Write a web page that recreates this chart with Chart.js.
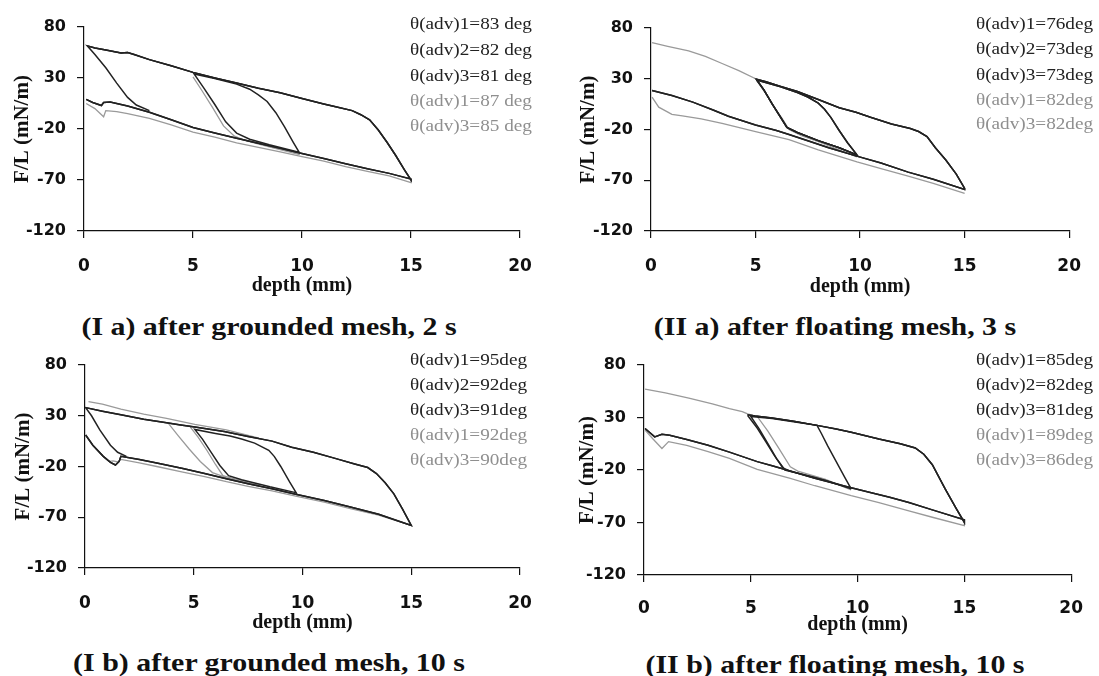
<!DOCTYPE html>
<html><head><meta charset="utf-8">
<script src="https://cdn.jsdelivr.net/npm/chart.js@4/dist/chart.umd.min.js"></script>
<style>
html,body{margin:0;padding:0;background:#fff;}
#page{position:relative;width:1099px;height:676px;overflow:hidden;background:#fff;}
#page canvas{position:absolute;}
.title{position:absolute;font-family:'Liberation Serif','Times New Roman',serif;font-weight:bold;font-size:26px;color:#111;white-space:nowrap;line-height:1;transform:translate(-50%,-50%) scaleX(1.15);}
.leg{position:absolute;font-family:'Liberation Serif','Times New Roman',serif;font-size:16px;white-space:nowrap;line-height:1;transform-origin:0 50%;transform:translateY(-50%) scaleX(1.2);}
</style></head><body><div id="page"></div>
<script>
// ---------- shared axis ticks ----------
const xTicks = [0, 5, 10, 15, 20];
const yTicks = [80, 30, -20, -70, -120];

// ---------- Panel I a (after grounded mesh, 2 s) ----------
const Ia_upper = [[15,-70],[14.7,-60],[14.3,-46],[13.9,-33],[13.5,-21],[13.1,-11],[12.7,-6],[12.3,-2],[11.5,2],[11,4.5],[10,10],[9,15.5],[8,20],[7,25],[6,30],[5,35.5],[4,42],[3,48],[2.3,53],[2,55],[1.7,54.5],[1,57.5],[0.5,59.5],[0.15,61.5]];
const Ia_steepL = [[0.15,61.5],[0.5,53],[1,40],[1.5,25],[2,11],[2.4,3.5],[3,-2]];
const Ia_lowerB = [[0.1,9],[0.4,6],[0.8,3],[0.9,6],[1.2,6.5],[2,2.5],[3,-3.5],[4,-11],[5,-18.5],[6,-24],[7,-29],[8,-34],[9,-39],[10,-44],[11,-49],[12,-54],[13,-59],[14,-63.5],[15,-69]];
const Ia_lowerG = [[0.1,5],[0.5,0],[0.9,-8],[1.0,-2],[1.5,-3],[2,-5],[3,-9.5],[4,-16],[5,-23],[6,-28],[7,-33.5],[8,-38],[9,-42.5],[10,-47],[11,-51.5],[12,-57],[13,-61.5],[14,-66],[15,-72.5]];
const Ia_steep10 = [[9.9,-44],[9.6,-33],[9.2,-18],[8.8,-4],[8.4,7],[8,13.5],[7.6,19],[7,24],[6,29.5],[5.05,34]];
const Ia_steep5B = [[5.05,34],[5.5,20],[6,4],[6.5,-13],[7,-24],[7.6,-30],[8.5,-35.5],[9.9,-43]];
const Ia_steep5G = [[5.0,31],[5.4,18],[5.9,1],[6.4,-17],[6.9,-27],[7.5,-32],[8.5,-37.5],[9.9,-45]];
const Ia_labels = ['θ(adv)1=83 deg','θ(adv)2=82 deg','θ(adv)3=81 deg','θ(adv)1=87 deg','θ(adv)3=85 deg'];

// ---------- Panel II a (after floating mesh, 3 s) ----------
const IIa_top = [[0.05,65.5],[0.8,62],[1.8,57.5],[2.6,52],[3.4,45],[4.2,38],[5,30]];
const IIa_upper = [[15,-78],[14.6,-64],[14.1,-50],[13.6,-38],[13.2,-27],[12.8,-22],[12.4,-19],[11.5,-14.5],[10.5,-8],[9.8,-3],[9,1.5],[8,9.5],[7,17.5],[6.2,22.5],[5.5,27],[5.05,29.5]];
const IIa_lowerB = [[0.05,18.5],[1,13.5],[2,7],[3,-1],[3.7,-7],[5,-15.5],[6,-21],[6.6,-25],[7.5,-31],[8.5,-38],[9.8,-46],[11,-53],[12.3,-62],[13.5,-69],[15,-79]];
const IIa_lowerG = [[0.05,12],[0.37,2],[1,-5],[1.5,-6.5],[2.4,-9.5],[3.4,-14],[5,-22],[6.6,-30],[8,-40],[9.85,-52],[11,-58.5],[12.3,-66],[13.5,-73],[15,-83]];
const IIa_steep5B = [[5.05,29],[5.4,19],[5.8,5],[6.2,-8],[6.5,-18],[7,-23],[8,-31],[9,-38],[9.85,-45]];
const IIa_steep10 = [[9.85,-45],[9.4,-33],[9,-21],[8.6,-8],[8.3,0],[8,6],[7.5,12],[7,16.5],[6.2,22],[5.1,28.5]];
const IIa_steep5G = [[5.1,27],[5.5,15],[5.9,2],[6.3,-10],[6.6,-20],[7.2,-26],[8,-32],[9.85,-47]];
const IIa_labels = ['θ(adv)1=76deg','θ(adv)2=73deg','θ(adv)3=73deg','θ(adv)1=82deg','θ(adv)3=82deg'];

// ---------- Panel I b (after grounded mesh, 10 s) ----------
const Ib_upper = [[15,-78],[14.6,-62],[14.2,-47],[13.8,-36],[13.4,-27],[13.0,-21],[12.4,-17.5],[11.5,-12],[10.5,-6],[9.5,-1],[8.6,5],[7.5,9.5],[6.4,14.5],[5.05,19],[4.4,21],[3.75,23],[2.7,26.5],[1.65,31],[0.8,34.5],[0.03,38]];
const Ib_top = [[0.16,44],[0.8,41.5],[1.65,36.5],[2.7,31.5],[3.75,27.5],[5.05,21.5],[6.5,16],[8,8]];
const Ib_steepL = [[0.03,38],[0.3,30],[0.68,16],[1.17,1],[1.5,-6],[1.9,-10]];
const Ib_lowerB = [[0.03,11],[0.36,1],[0.84,-10],[1.17,-16],[1.4,-18.5],[1.57,-15],[1.65,-10],[2.5,-13],[3.3,-16.5],[4.5,-22],[5.5,-27],[6.5,-32],[7.5,-37],[8.6,-42],[9.74,-47.5],[11,-53.5],[12.2,-60],[13.5,-67],[15,-78]];
const Ib_lowerG = [[1.1,-15],[1.3,-14.5],[1.5,-15.5],[1.65,-13],[2.5,-16.5],[3.3,-20],[4.5,-25.5],[5.5,-30],[6.5,-35],[7.5,-39.5],[8.6,-44],[9.74,-49.5],[11,-55],[12.2,-61.5],[13.5,-68],[15,-78]];
const Ib_steep10 = [[9.74,-47],[9.4,-35],[9.0,-20],[8.7,-10],[8.45,-4],[7.8,3],[7.2,7],[6.67,10],[6,12.5],[5.05,16.5]];
const Ib_steep5B = [[5.05,16.5],[5.4,7],[5.8,-6],[6.2,-19],[6.6,-29],[7.2,-33],[8.5,-40],[9.74,-46]];
const Ib_steepGA = [[3.85,22],[4.3,10],[4.8,-3],[5.3,-15],[5.86,-26],[6.5,-31],[7.5,-36]];
const Ib_steepGB = [[4.8,20],[5.2,9],[5.6,-4],[6.0,-18],[6.34,-29],[7,-33],[8,-38]];
const Ib_labels = ['θ(adv)1=95deg','θ(adv)2=92deg','θ(adv)3=91deg','θ(adv)1=92deg','θ(adv)3=90deg'];

// ---------- Panel II b (after floating mesh, 10 s) ----------
const IIb_top = [[0.05,57],[1,53.5],[2.1,48.5],[3.2,43],[4,38.5],[4.6,35.5],[4.85,33.5]];
const IIb_upper = [[15,-70],[14.6,-56],[14.1,-38],[13.5,-15],[13.1,-5],[12.7,1],[12,5],[11,9.5],[9.7,16],[9,19],[8.1,22.5],[7,26.5],[6,29.5],[5.2,31.5],[4.87,32.5]];
const IIb_lowerB = [[0.05,19.5],[0.5,11.5],[0.84,14],[1.2,13],[2,9],[3,3.5],[4,-3],[5.3,-12],[6,-16],[6.85,-21],[8,-28],[9.7,-37],[10.5,-41],[11.5,-46],[12.4,-51],[13.5,-58],[15,-67.5]];
const IIb_lowerG = [[0.05,18],[0.4,10],[0.84,0.5],[1.15,7],[2,3.5],[3,-2.5],[4,-9],[5.3,-19.5],[6.85,-28],[8,-35],[9.7,-44.5],[11,-51],[12.4,-59],[13.5,-65],[15,-73]];
const IIb_steep5B = [[4.87,31.5],[5.3,20],[5.7,7],[6.1,-6],[6.5,-18],[6.9,-21.5],[8,-27],[9.7,-37]];
const IIb_steep10 = [[9.7,-38],[9.4,-27],[9.0,-12],[8.6,3],[8.3,15],[8.1,22.5],[7,26],[6,29],[5.0,31]];
const IIb_steep5B2 = [[5.0,31],[5.4,19],[5.8,5],[6.2,-9],[6.6,-20],[7.2,-23],[8.5,-30],[9.7,-38]];
const IIb_steep5G = [[5.3,31],[5.8,17],[6.3,1],[6.85,-17],[7.2,-21],[8.5,-29],[9.7,-39]];
const IIb_labels = ['θ(adv)1=85deg','θ(adv)2=82deg','θ(adv)3=81deg','θ(adv)1=89deg','θ(adv)3=86deg'];

// ---------- series: each run is a chain of traced segments ----------
const Ia_series = [[Ia_lowerB, Ia_upper, Ia_steepL],[Ia_steep10, Ia_steep5B],[Ia_lowerB, Ia_upper],[Ia_lowerG, Ia_upper],[Ia_steep5G]];
const IIa_series = [[IIa_lowerB, IIa_upper, IIa_steep5B, IIa_steep10],[IIa_lowerB, IIa_upper, IIa_steep5B],[IIa_steep10, IIa_steep5B],[IIa_top, IIa_steep5G],[IIa_lowerG, IIa_upper]];
const Ib_series = [[Ib_lowerB, Ib_upper, Ib_steepL],[Ib_steep10, Ib_steep5B],[Ib_lowerB, Ib_upper],[Ib_top, Ib_steepGA],[Ib_lowerG, Ib_steepGB]];
const IIb_series = [[IIb_lowerB, IIb_upper, IIb_steep5B],[IIb_steep10, IIb_steep5B2],[IIb_lowerB, IIb_upper],[IIb_top, IIb_steep5G],[IIb_lowerG, IIb_upper]];

const BLACK = '#222222', GRAY = '#9a9a9a';

// layout (page px): canvas box, plot area, legend, title, axis-title offsets
const panels = [
  {series: Ia_series, labels: Ia_labels, cv:[0,0,550,300], area:[84,27,520,231], legX:410, legY:[24,50,76,101,126], title:'(I a) after grounded mesh, 2 s', tX:269, tY:327, yT:23, xT:286, xPad:18},
  {series: IIa_series, labels: IIa_labels, cv:[550,0,549,300], area:[651,28,1087,231], legX:976, legY:[24,49,75,100,124], title:'(II a) after floating mesh, 3 s', tX:835, tY:327, yT:589, xT:287, xPad:18},
  {series: Ib_series, labels: Ib_labels, cv:[0,330,550,310], area:[85,365,520,568], legX:410, legY:[360,385,410,435,460], title:'(I b) after grounded mesh, 10 s', tX:269, tY:663, yT:24, xT:623, xPad:18},
  {series: IIb_series, labels: IIb_labels, cv:[550,330,549,310], area:[644,365,1087,575], legX:976, legY:[360,385,410,435,460], title:'(II b) after floating mesh, 10 s', tX:835, tY:665, yT:588, xT:625, xPad:16}
];

function chain(segs){
  const out = [];
  segs.forEach(seg => {
    if (out.length) {
      const last = out[out.length-1], f = seg[0];
      if (Math.abs(last.x - f[0]) > 1 || Math.abs(last.y - f[1]) > 4) out.push({x: NaN, y: NaN});
    }
    seg.forEach(p => out.push({x: p[0], y: p[1]}));
  });
  return out;
}

const page = document.getElementById('page');
panels.forEach(p => {
  const [cl, ct, cw, ch] = p.cv;
  const [al, at, ar, ab] = p.area;
  const cv = document.createElement('canvas');
  cv.width = cw; cv.height = ch;
  cv.style.left = cl + 'px'; cv.style.top = ct + 'px';
  cv.style.width = cw + 'px'; cv.style.height = ch + 'px';
  page.appendChild(cv);

  const yW = al - cl, xH = ct + ch - ab;
  const yTitleSize = 21, xTitleSize = 20;
  new Chart(cv, {
    type: 'scatter',
    data: {datasets: p.series.map((s, i) => ({
      label: p.labels[i], data: chain(s), showLine: true, spanGaps: false,
      borderColor: i < 3 ? BLACK : GRAY, backgroundColor: i < 3 ? BLACK : GRAY,
      borderWidth: i < 3 ? 1.5 : 1.3, pointRadius: 0, pointHoverRadius: 0, tension: 0, fill: false
    }))},
    options: {
      responsive: false, animation: false, events: [],
      layout: {padding: {left: 0, top: at - ct, right: cl + cw - ar, bottom: 0}},
      plugins: {legend: {display: false}, tooltip: {enabled: false}},
      scales: {
        x: {
          type: 'linear', min: 0, max: 20,
          afterBuildTicks: s => { s.ticks = xTicks.map(v => ({value: v})); },
          afterFit: s => { s.height = xH; },
          grid: {drawOnChartArea: false, drawTicks: true, tickLength: 7, color: '#111', lineWidth: 1.2},
          border: {display: true, color: '#111', width: 1.2},
          ticks: {font: {family: 'DejaVu Sans', weight: 'bold', size: 17}, color: '#111', padding: p.xPad, maxRotation: 0, autoSkip: false},
          title: {display: true, text: 'depth (mm)', color: '#111',
                  font: {family: 'Liberation Serif', weight: 'bold', size: xTitleSize},
                  padding: {top: 0, bottom: (ct + ch) - p.xT - xTitleSize * 0.6}}
        },
        y: {
          type: 'linear', min: -120, max: 80,
          afterBuildTicks: s => { s.ticks = yTicks.map(v => ({value: v})); },
          afterFit: s => { s.width = yW; },
          grid: {drawOnChartArea: false, drawTicks: true, tickLength: 7, color: '#111', lineWidth: 1.2},
          border: {display: true, color: '#111', width: 1.2},
          ticks: {font: {family: 'DejaVu Sans', weight: 'bold', size: 16}, color: '#111', padding: 11, autoSkip: false},
          title: {display: true, text: 'F/L (mN/m)', color: '#111',
                  font: {family: 'Liberation Serif', weight: 'bold', size: yTitleSize},
                  padding: {top: (p.yT - cl) - yTitleSize * 0.6, bottom: 0}}
        }
      }
    }
  });

  p.labels.forEach((t, i) => {
    const d = document.createElement('div');
    d.className = 'leg';
    d.textContent = t;
    d.style.left = p.legX + 'px';
    d.style.top = p.legY[i] + 'px';
    d.style.color = i < 3 ? '#222' : '#8f8f8f';
    page.appendChild(d);
  });

  const tt = document.createElement('div');
  tt.className = 'title';
  tt.textContent = p.title;
  tt.style.left = p.tX + 'px';
  tt.style.top = p.tY + 'px';
  page.appendChild(tt);
});
</script>
</body></html>
